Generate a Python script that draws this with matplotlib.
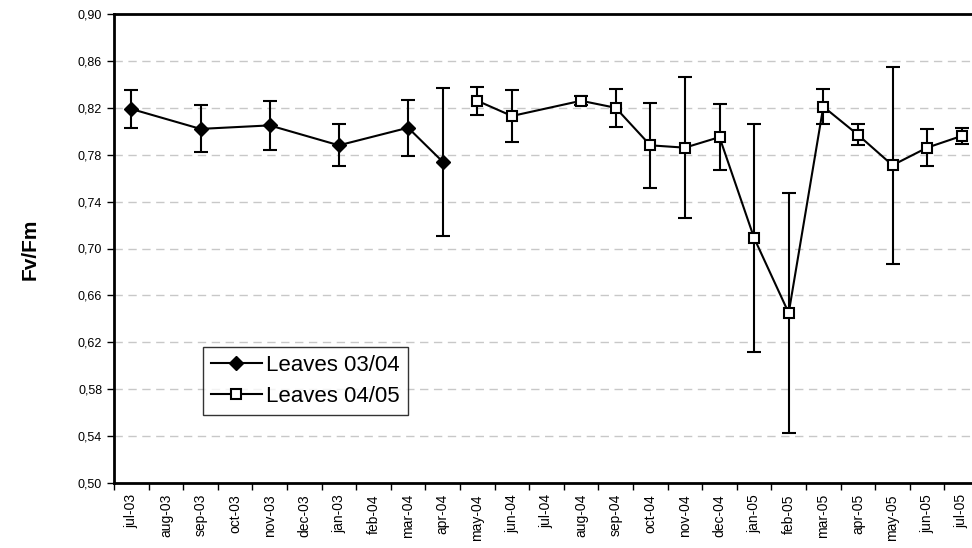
import numpy as np
import matplotlib
matplotlib.use("Agg")
import matplotlib.pyplot as plt
from matplotlib.lines import Line2D

plt.rcParams["font.family"] = ["Liberation Sans", "DejaVu Sans"]

months = ["jul-03", "aug-03", "sep-03", "oct-03", "nov-03", "dec-03", "jan-03",
          "feb-04", "mar-04", "apr-04", "may-04", "jun-04", "jul-04", "aug-04",
          "sep-04", "oct-04", "nov-04", "dec-04", "jan-05", "feb-05", "mar-05",
          "apr-05", "may-05", "jun-05", "jul-05"]

# Leaves 03/04 (None = no measurement)
leaves_0304 = [0.819, None, 0.802, None, 0.805, None, 0.788, None, 0.803, 0.774,
               None, None, None, None, None, None, None, None, None, None, None,
               None, None, None, None]
err_0304 = [0.016, None, 0.020, None, 0.021, None, 0.018, None, 0.024, 0.063,
            None, None, None, None, None, None, None, None, None, None, None,
            None, None, None, None]

# Leaves 04/05
leaves_0405 = [None, None, None, None, None, None, None, None, None, None,
               0.826, 0.813, None, 0.826, 0.820, 0.788, 0.786, 0.795, 0.709, 0.645,
               0.821, 0.797, 0.771, 0.786, 0.796]
err_0405 = [None, None, None, None, None, None, None, None, None, None,
            0.012, 0.022, None, 0.004, 0.016, 0.036, 0.060, 0.028, 0.097, 0.102,
            0.015, 0.009, 0.084, 0.016, 0.007]

yticks = [0.50, 0.54, 0.58, 0.62, 0.66, 0.70, 0.74, 0.78, 0.82, 0.86, 0.90]


def valid(vals, errs):
    idx = [i for i, v in enumerate(vals) if v is not None]
    return np.array(idx), np.array([vals[i] for i in idx]), np.array([errs[i] for i in idx])


fig = plt.figure(figsize=(9.72, 5.48), dpi=100)
ax = fig.add_axes([114 / 972, 65 / 548, 865 / 972, 469 / 548])

x1, y1, e1 = valid(leaves_0304, err_0304)
x2, y2, e2 = valid(leaves_0405, err_0405)

style1 = dict(color="black", lw=1.5, marker="D", ms=7, mfc="black", mec="black")
style2 = dict(color="black", lw=1.5, marker="s", ms=7, mfc="white", mec="black", mew=1.5)

ax.errorbar(x1, y1, yerr=e1, elinewidth=1.5, capsize=5, capthick=1.5, zorder=3, **style1)
ax.errorbar(x2, y2, yerr=e2, elinewidth=1.5, capsize=5, capthick=1.5, zorder=3, **style2)

ax.set_xlim(-0.5, len(months) - 0.5)
ax.set_ylim(0.50, 0.90)
ax.set_yticks(yticks)
ax.set_yticklabels([f"{v:.2f}".replace(".", ",") for v in yticks])
ax.grid(axis="y", color="#c8c8c8", ls=(0, (6, 4)), lw=1)
ax.set_axisbelow(True)

# category axis: labels at centres, ticks at boundaries
ax.set_xticks(np.arange(len(months)))
ax.set_xticklabels(months, rotation=90, fontsize=10)
ax.tick_params(axis="x", which="major", length=0, pad=8)
ax.set_xticks(np.arange(len(months) + 1) - 0.5, minor=True)
ax.tick_params(axis="x", which="minor", length=5, width=1, color="black")
ax.tick_params(axis="y", labelsize=9, length=5, width=1)

for s in ["left", "bottom", "top"]:
    ax.spines[s].set_linewidth(2)
ax.spines["right"].set_visible(False)

fig.text(30 / 972, 0.5 + 25 / 548, "Fv/Fm", rotation=90, fontsize=15, fontweight="bold",
         ha="center", va="center")

handles = [Line2D([], [], **style1), Line2D([], [], **style2)]
leg = ax.legend(handles, ["Leaves 03/04", "Leaves 04/05"], loc="upper left",
                bbox_to_anchor=(89 / 865, (483 - 347) / 469),
                fontsize=16, frameon=True, fancybox=False, edgecolor="black",
                handlelength=2.3, borderpad=0.35, labelspacing=0.45, handletextpad=0.2,
                borderaxespad=0)
leg.get_frame().set_linewidth(1)

fig.savefig("out.png", dpi=100)
